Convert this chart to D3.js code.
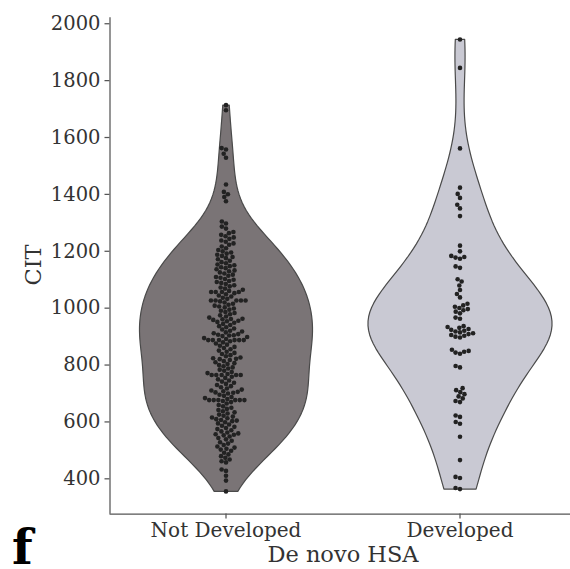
<!DOCTYPE html>
<html>
<head>
<meta charset="utf-8">
<script src="https://cdn.jsdelivr.net/npm/d3@7"></script>
<style>
  html, body { margin: 0; padding: 0; background: #fff; }
  svg { display: block; }
  text { font-family: "DejaVu Serif", serif; }
</style>
</head>
<body>
<svg id="chart" width="570" height="569"></svg>
<script>
// Groups shown on the x axis
const categories = ["Not Developed", "Developed"];

// CIT values per patient, one array per group
const notDevelopedCIT = [
  1712, 1694, 1561, 1556, 1541, 1527, 1433, 1407, 1399, 1389, 1374,
  1303, 1296,
  1285, 1278, 1266, 1262, 1256, 1251,
  1247, 1242, 1236, 1232, 1226, 1221, 1215, 1209, 1203,
  1198, 1194, 1190, 1186, 1182, 1178, 1174, 1170, 1165, 1160, 1156, 1152,
  1149, 1146, 1142, 1139, 1135, 1131, 1128, 1124, 1120, 1116, 1112, 1108, 1105, 1101,
  1098, 1094, 1090, 1087, 1083, 1079, 1075, 1071, 1067, 1063, 1059, 1055, 1055, 1055, 1055, 1051,
  1047, 1043, 1039, 1035, 1031, 1025, 1025, 1025, 1025, 1025, 1022, 1018, 1014, 1010, 1007, 1004, 1001,
  997, 993, 989, 985, 981, 977, 973, 969, 965, 961, 960, 959, 957, 954, 952, 950,
  947, 943, 939, 935, 931, 927, 923, 919, 916, 913, 910, 907, 905, 903, 902, 900,
  897, 893, 890, 886, 886, 886, 886, 886, 886, 882, 878, 874, 870, 866, 862, 858, 854,
  849, 845, 841, 837, 833, 829, 825, 822, 820, 819, 816, 812, 808, 805, 802,
  798, 794, 790, 786, 782, 778, 774, 770, 767, 763, 763, 763, 763, 763, 757, 753,
  748, 744, 740, 736, 732, 728, 724, 720, 716, 712, 709, 706, 704, 702, 701,
  698, 694, 690, 686, 682, 679, 675, 675, 675, 675, 675, 675, 672, 668, 663, 658, 653,
  648, 644, 640, 636, 632, 628, 624, 620, 617, 614, 611, 608, 605, 603, 601,
  597, 593, 589, 585, 581, 577, 573, 569, 565, 561, 558, 555, 553, 551,
  547, 542, 537, 532, 527, 522, 517, 512, 508, 504, 501,
  497, 490, 484, 478, 472, 466, 460, 456,
  431, 426, 409,
  392, 354
];
const developedCIT = [
  1943, 1843, 1560, 1422, 1400, 1386, 1362, 1349, 1322,
  1218, 1198, 1182, 1178, 1176, 1172, 1145, 1140,
  1100, 1092, 1078, 1062, 1048, 1036,
  1014, 1008, 1003, 999, 995, 991, 986, 980, 965, 961,
  935, 932, 929, 925, 922, 919, 916, 913, 910, 907, 904, 901, 898, 895,
  852, 848, 845, 842, 838, 795, 790,
  717, 710, 703, 696, 688, 681, 672, 668,
  621, 616, 598, 592, 546, 464, 405, 401, 366, 362
];

// Axis ticks
const yTicks = [400, 600, 800, 1000, 1200, 1400, 1600, 1800, 2000];

// Appearance
const violinFill = ["#7a7476", "#c9c9d3"];
const violinHalfWidth = [86.5, 92];
const dotRadius = 2.3;

const groups = [notDevelopedCIT, developedCIT];

const svg = d3.select("#chart");

const x = d3.scaleBand().domain(categories).range([109, 577]).padding(0);
const y = d3.scaleLinear().domain([277, 2023]).range([513.3, 16.7]);

// Gaussian KDE with Scott's bandwidth, evaluated between the data extremes
function kde(values, gridsize) {
  const n = values.length;
  const sd = d3.deviation(values);
  const h = sd * Math.pow(n, -1 / 5);
  const [lo, hi] = d3.extent(values);
  const out = [];
  for (let i = 0; i < gridsize; i++) {
    const v = lo + (hi - lo) * i / (gridsize - 1);
    let s = 0;
    for (const xi of values) {
      const z = (v - xi) / h;
      s += Math.exp(-0.5 * z * z);
    }
    out.push({ v, d: s / (n * h * Math.sqrt(2 * Math.PI)) });
  }
  return out;
}

// Beeswarm layout: points placed in value order, nearest free slot to the midline
function beeswarm(values, diameter) {
  const pts = values.map(v => ({ v, y: y(v), x: 0 }))
    .sort((a, b) => a.v - b.v);
  const placed = [];
  for (const p of pts) {
    const neighbors = placed.filter(q => Math.abs(q.y - p.y) < diameter);
    const cands = [0];
    for (const q of neighbors) {
      const dy = p.y - q.y;
      const dx = Math.sqrt(Math.max(diameter * diameter - dy * dy, 0.05));
      cands.push(q.x - dx, q.x + dx);
    }
    cands.sort((a, b) => Math.abs(a) - Math.abs(b));
    let chosen = cands[cands.length - 1];
    for (const c of cands) {
      const ok = neighbors.every(q => {
        const dx = c - q.x, dy = p.y - q.y;
        return dx * dx + dy * dy >= diameter * diameter - 1e-6;
      });
      if (ok) { chosen = c; break; }
    }
    p.x = chosen;
    placed.push(p);
  }
  return placed;
}

// Violins
groups.forEach((vals, i) => {
  const cx = x(categories[i]) + x.bandwidth() / 2;
  const dens = kde(vals, 100);
  const maxD = d3.max(dens, d => d.d);
  const area = d3.area()
    .y(d => y(d.v))
    .x0(d => cx - violinHalfWidth[i] * d.d / maxD)
    .x1(d => cx + violinHalfWidth[i] * d.d / maxD)
    .curve(d3.curveLinear);
  svg.append("path")
    .datum(dens)
    .attr("d", area)
    .attr("fill", violinFill[i])
    .attr("stroke", "#4a4a4a")
    .attr("stroke-width", 1.2)
    .attr("stroke-linejoin", "round");
});

// Swarm points
groups.forEach((vals, i) => {
  const cx = x(categories[i]) + x.bandwidth() / 2;
  const pts = beeswarm(vals, dotRadius * 2);
  svg.append("g")
    .selectAll("circle")
    .data(pts)
    .join("circle")
    .attr("cx", d => cx + d.x)
    .attr("cy", d => d.y)
    .attr("r", dotRadius)
    .attr("fill", "#222");
});

// Axes
const yAxis = svg.append("g")
  .attr("transform", "translate(109.5,0)")
  .call(d3.axisLeft(y).tickValues(yTicks).tickFormat(d3.format("d"))
    .tickSize(5).tickPadding(4).tickSizeOuter(0));
const xAxis = svg.append("g")
  .attr("transform", "translate(0,513.5)")
  .call(d3.axisBottom(x).tickSize(5).tickPadding(4).tickSizeOuter(0));

[yAxis, xAxis].forEach(g => {
  g.select(".domain").attr("stroke", "#555").attr("stroke-width", 1.25);
  g.selectAll(".tick line").attr("stroke", "#555").attr("stroke-width", 1.25);
  g.selectAll(".tick text")
    .attr("fill", "#333")
    .style("font-family", "'DejaVu Serif', serif");
});
yAxis.selectAll(".tick text").style("font-size", "19.5px");
xAxis.selectAll(".tick text").style("font-size", "20px");

// Axis titles
svg.append("text")
  .attr("transform", "translate(41,265) rotate(-90)")
  .attr("text-anchor", "middle")
  .attr("fill", "#333")
  .style("font-size", "22.5px")
  .text("CIT");

svg.append("text")
  .attr("x", 343)
  .attr("y", 562)
  .attr("text-anchor", "middle")
  .attr("fill", "#333")
  .style("font-size", "22.5px")
  .text("De novo HSA");

// Panel letter
svg.append("text")
  .attr("x", 12)
  .attr("y", 564)
  .attr("fill", "#000")
  .style("font-size", "48px")
  .style("font-weight", "bold")
  .text("f");
</script>
</body>
</html>
